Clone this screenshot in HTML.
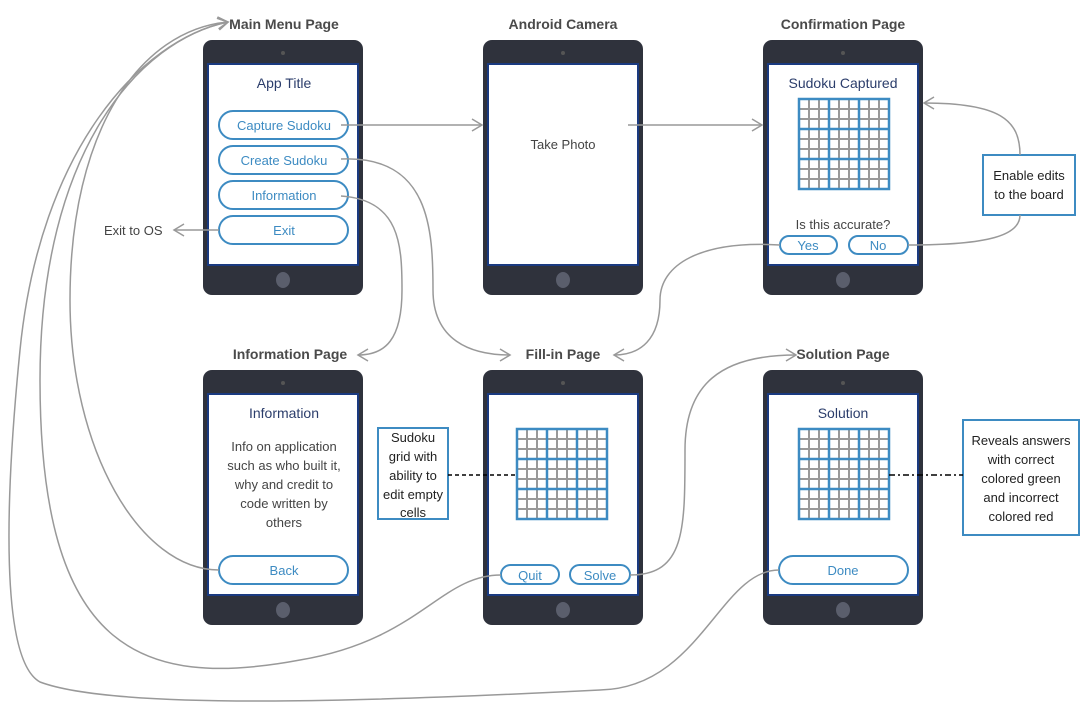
<!DOCTYPE html>
<html><head><meta charset="utf-8"><style>
body{margin:0;background:#fff}
svg{display:block;font-family:"Liberation Sans",sans-serif}
.h{font-size:14px;font-weight:bold;fill:#4a4a4a;text-anchor:middle}
.t{font-size:14px;fill:#2b3d6b;text-anchor:middle}
.b{font-size:13px;fill:#3d8bc2;text-anchor:middle}
.p{font-size:13px;fill:#444;text-anchor:middle}
.btn{fill:#fff;stroke:#3d8bc2;stroke-width:2}
.c{fill:none;stroke:#999;stroke-width:1.5}
</style></head><body>
<svg width="1088" height="719" viewBox="0 0 1088 719">
<defs>
<marker id="a" markerWidth="14" markerHeight="14" refX="11" refY="7" orient="auto" markerUnits="userSpaceOnUse">
<path d="M1,1 L11,7 L1,13" fill="none" stroke="#999" stroke-width="1.5"/></marker>
<g id="phone"><rect x="0" y="0" width="160" height="255" rx="9" fill="#2f323c"/><rect x="5" y="24" width="150" height="201" fill="#fff" stroke="#1a3a80" stroke-width="2"/><circle cx="80" cy="13" r="2" fill="#555"/><ellipse cx="80" cy="240" rx="7" ry="8" fill="#5a5e6c"/></g>
<g id="grid"><path d="M10,0V90M20,0V90M40,0V90M50,0V90M70,0V90M80,0V90M0,10H90M0,20H90M0,40H90M0,50H90M0,70H90M0,80H90" stroke="#999" stroke-width="2" fill="none"/><path d="M30,0V90M60,0V90M0,30H90M0,60H90" stroke="#3d8bc2" stroke-width="2.5"/><rect x="0" y="0" width="90" height="90" fill="none" stroke="#3d8bc2" stroke-width="2.5"/></g>
</defs>

<use href="#phone" x="203" y="40"/><use href="#phone" x="483" y="40"/><use href="#phone" x="763" y="40"/>
<use href="#phone" x="203" y="370"/><use href="#phone" x="483" y="370"/><use href="#phone" x="763" y="370"/>

<text class="h" x="284" y="29">Main Menu Page</text>
<text class="h" x="563" y="29">Android Camera</text>
<text class="h" x="843" y="29">Confirmation Page</text>
<text class="h" x="290" y="359">Information Page</text>
<text class="h" x="563" y="359">Fill-in Page</text>
<text class="h" x="843" y="359">Solution Page</text>

<text class="t" x="284" y="88">App  Title</text>
<rect class="btn" x="219" y="111" width="129" height="28" rx="14"/><text class="b" x="284" y="130">Capture Sudoku</text>
<rect class="btn" x="219" y="146" width="129" height="28" rx="14"/><text class="b" x="284" y="165">Create Sudoku</text>
<rect class="btn" x="219" y="181" width="129" height="28" rx="14"/><text class="b" x="284" y="200">Information</text>
<rect class="btn" x="219" y="216" width="129" height="28" rx="14"/><text class="b" x="284" y="235">Exit</text>

<text x="563" y="149" style="font-size:13px;fill:#444;text-anchor:middle">Take Photo</text>

<text class="t" x="843" y="88">Sudoku Captured</text>
<use href="#grid" x="799" y="99"/>
<text class="p" x="843" y="229">Is this accurate?</text>
<rect class="btn" x="780" y="236" width="57" height="18" rx="9"/><text class="b" x="808" y="250">Yes</text>
<rect class="btn" x="849" y="236" width="59" height="18" rx="9"/><text class="b" x="878" y="250">No</text>

<text class="t" x="284" y="418">Information</text>
<text class="p" x="284" y="451">Info on application</text>
<text class="p" x="284" y="470">such as who built it,</text>
<text class="p" x="284" y="489">why and credit to</text>
<text class="p" x="284" y="508">code written by</text>
<text class="p" x="284" y="527">others</text>
<rect class="btn" x="219" y="556" width="129" height="28" rx="14"/><text class="b" x="284" y="575">Back</text>

<use href="#grid" x="517" y="429"/>
<rect class="btn" x="501" y="565" width="58" height="19" rx="9.5"/><text class="b" x="530" y="580">Quit</text>
<rect class="btn" x="570" y="565" width="60" height="19" rx="9.5"/><text class="b" x="600" y="580">Solve</text>

<text class="t" x="843" y="418">Solution</text>
<use href="#grid" x="799" y="429"/>
<rect class="btn" x="779" y="556" width="129" height="28" rx="14"/><text class="b" x="843" y="575">Done</text>

<rect x="378" y="428" width="70" height="91" fill="#fff" stroke="#3d8bc2" stroke-width="2"/>
<g class="p" style="font-size:13px;fill:#222"><text x="413" y="442">Sudoku</text><text x="413" y="461">grid with</text><text x="413" y="480">ability to</text><text x="413" y="499">edit empty</text><text x="413" y="517">cells</text></g>
<path d="M448,475H516" stroke="#000" stroke-width="1.5" stroke-dasharray="4,3"/>

<rect x="963" y="420" width="116" height="115" fill="#fff" stroke="#3d8bc2" stroke-width="2"/>
<g class="p" style="font-size:13px;fill:#222"><text x="1021" y="445">Reveals answers</text><text x="1021" y="464">with correct</text><text x="1021" y="483">colored green</text><text x="1021" y="502">and incorrect</text><text x="1021" y="521">colored red</text></g>
<path d="M889,475H963" stroke="#000" stroke-width="1.5" stroke-dasharray="6,3,2,3"/>

<rect x="983" y="155" width="92" height="60" fill="#fff" stroke="#3d8bc2" stroke-width="2"/>
<g class="p" style="font-size:13px;fill:#222"><text x="1029" y="180">Enable edits</text><text x="1029" y="199">to the board</text></g>

<text x="104" y="235" style="font-size:13px;fill:#444">Exit to OS</text>

<path class="c" d="M341,125H482" marker-end="url(#a)"/>
<path class="c" d="M628,125H762" marker-end="url(#a)"/>
<path class="c" d="M219,230H174" marker-end="url(#a)"/>
<path class="c" d="M341,159C430,155 433,230 433,290C433,340 470,355 510,355" marker-end="url(#a)"/>
<path class="c" d="M341,196C400,200 402,245 402,290C402,340 385,355 358,355" marker-end="url(#a)"/>
<path class="c" d="M780,245C700,240 660,265 660,300C660,340 640,355 614,355" marker-end="url(#a)"/>
<path class="c" d="M908,245C990,245 1020,235 1020,215"/>
<path class="c" d="M1020,155C1020,120 1000,103 924,103" marker-end="url(#a)"/>
<path class="c" d="M630,575C685,575 685,530 685,450C685,385 720,355 796,355" marker-end="url(#a)"/>
<path class="c" d="M219,570C140,570 70,450 70,300C70,130 140,30 228,22" marker-end="url(#a)"/>
<path class="c" d="M501,575C440,575 420,640 300,660C140,690 40,650 40,380C40,150 140,40 228,22" marker-end="url(#a)"/>
<path class="c" d="M779,570C720,570 700,688 600,690C400,700 120,712 40,682C0,660 5,500 20,350C40,150 140,40 228,22" marker-end="url(#a)"/>
</svg>
</body></html>
